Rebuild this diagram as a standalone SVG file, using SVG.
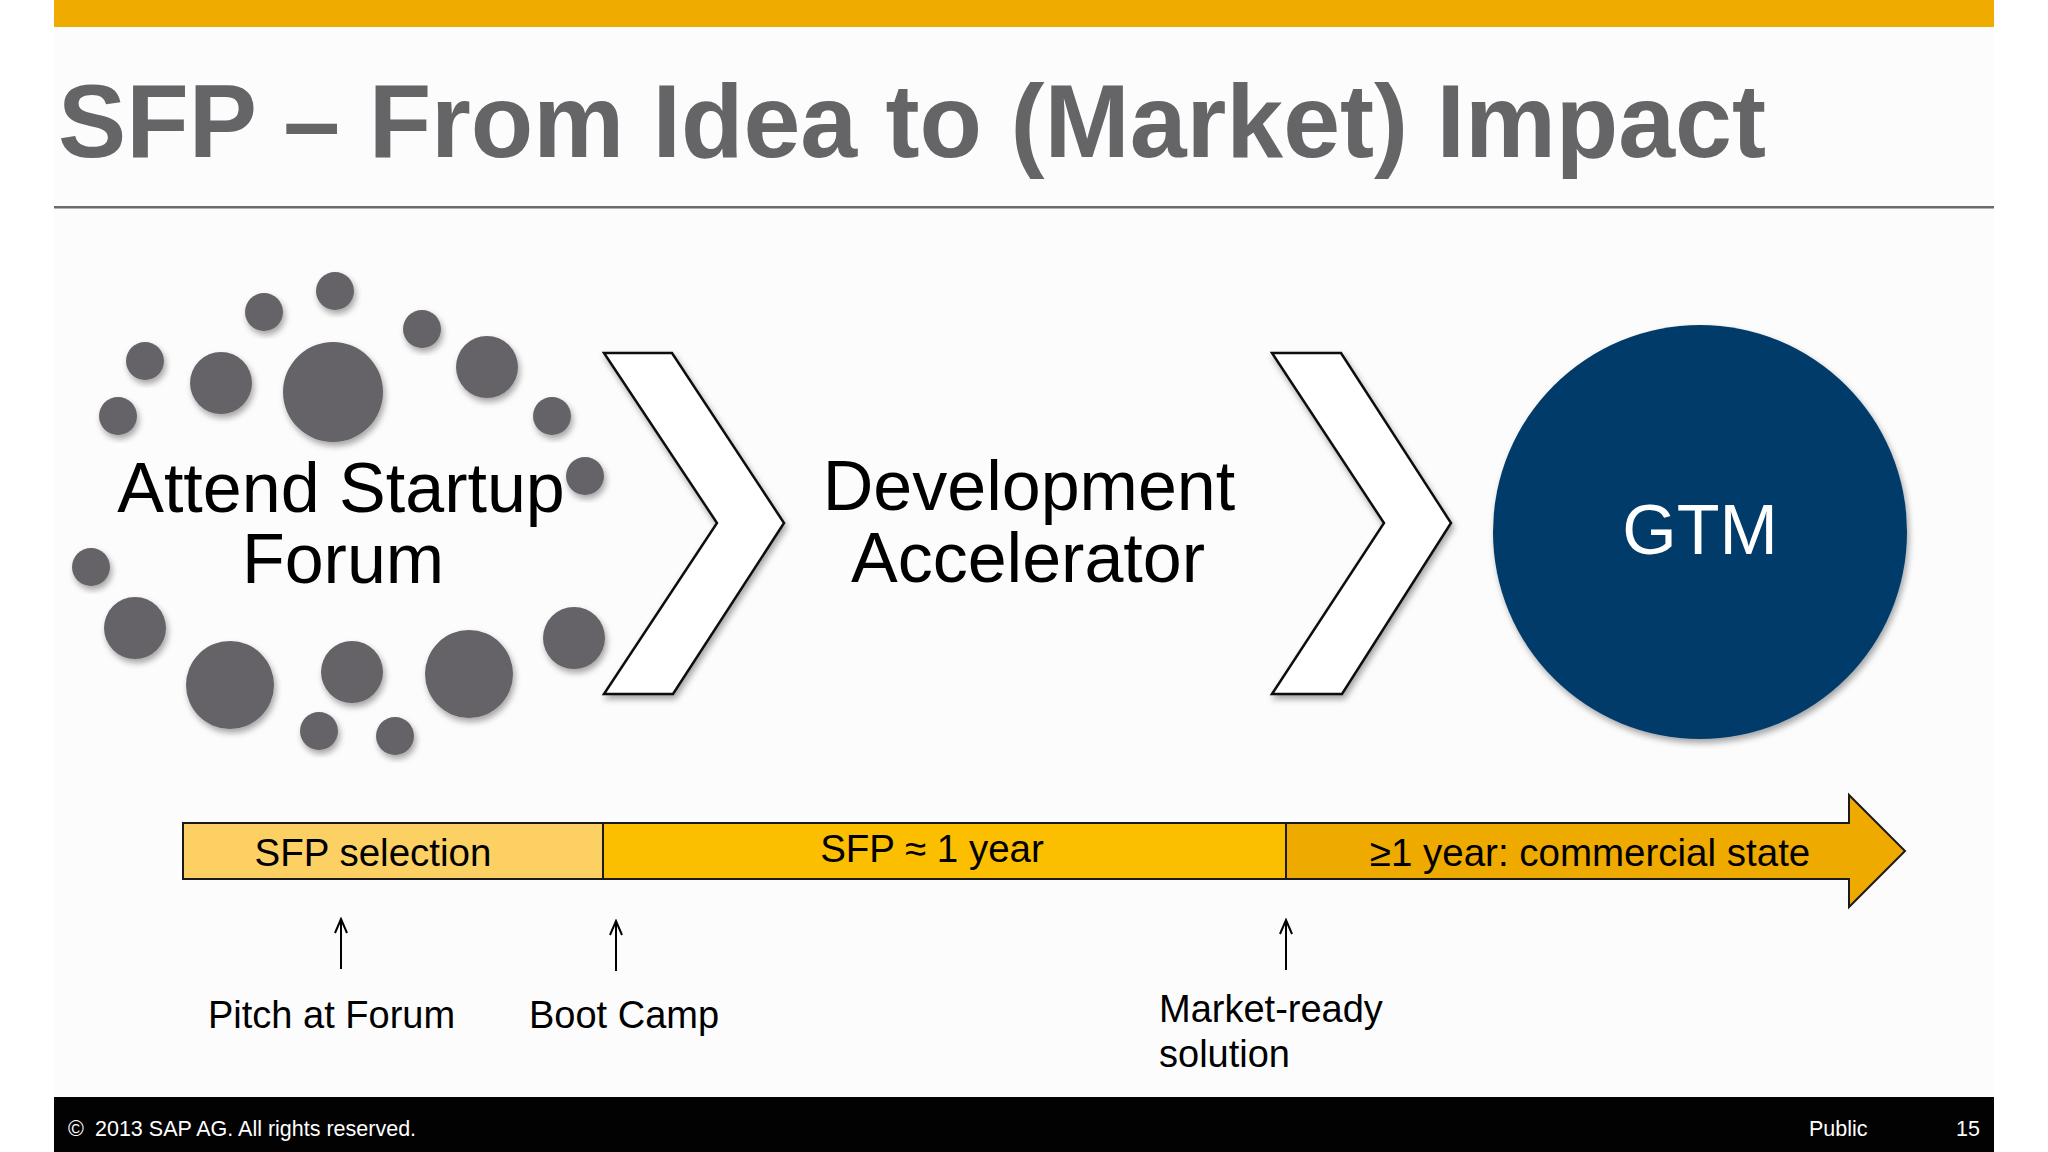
<svg xmlns="http://www.w3.org/2000/svg" width="2048" height="1152" viewBox="0 0 2048 1152">
  <style>
    .sans { font-family: "Liberation Sans", Arial, sans-serif; }
    .bubble { fill: #656367; filter: url(#shadow); }
    .chev { fill: #ffffff; stroke: #111111; stroke-width: 2.5; stroke-linejoin: miter; filter: url(#shadow); }
    .big { font-size: 70px; fill: #000000; text-anchor: middle; }
    .bar { stroke: #1a1a1a; stroke-width: 2; }
    .barlabel { font-size: 38.5px; fill: #000000; text-anchor: middle; }
    .mlabel { font-size: 38px; fill: #000000; }
    .foot { font-size: 21.5px; fill: #ffffff; }
    .up { stroke: #000000; stroke-width: 2; fill: none; marker-end: url(#openhead); }
  </style>
  <defs>
    <filter id="shadow" x="-20%" y="-20%" width="140%" height="140%">
      <feDropShadow dx="2" dy="4" stdDeviation="3" flood-color="#000000" flood-opacity="0.35"/>
    </filter>
    <marker id="openhead" viewBox="-16 -8 18 16" markerWidth="18" markerHeight="16" refX="0" refY="0" orient="auto" markerUnits="userSpaceOnUse">
      <path d="M-14,-6 L0,0 L-14,6" fill="none" stroke="#000000" stroke-width="2"/>
    </marker>
  </defs>

  <!-- background -->
  <rect x="0" y="0" width="2048" height="1152" fill="#ffffff"/>
  <rect x="54" y="0" width="1940" height="1152" fill="#fcfcfc"/>

  <!-- header -->
  <g id="header">
    <rect x="54" y="0" width="1940" height="27" fill="#efab00"/>
    <text class="sans" x="58" y="157" font-size="104" font-weight="bold" fill="#656467" textLength="1708" lengthAdjust="spacingAndGlyphs">SFP – From Idea to (Market) Impact</text>
    <rect x="54" y="206" width="1940" height="2.5" fill="#6b6b6b"/>
  </g>

  <!-- node: Attend Startup Forum -->
  <g id="node-forum">
    <circle class="bubble" cx="335" cy="291" r="19"/>
    <circle class="bubble" cx="264" cy="312" r="19"/>
    <circle class="bubble" cx="422" cy="329" r="19"/>
    <circle class="bubble" cx="333" cy="392" r="50"/>
    <circle class="bubble" cx="221" cy="383" r="31"/>
    <circle class="bubble" cx="145" cy="361" r="19"/>
    <circle class="bubble" cx="487" cy="367" r="31"/>
    <circle class="bubble" cx="118" cy="416" r="19"/>
    <circle class="bubble" cx="552" cy="416" r="19"/>
    <circle class="bubble" cx="585" cy="476" r="19"/>
    <circle class="bubble" cx="91" cy="567" r="19"/>
    <circle class="bubble" cx="135" cy="628" r="31"/>
    <circle class="bubble" cx="230" cy="685" r="44"/>
    <circle class="bubble" cx="352" cy="672" r="31"/>
    <circle class="bubble" cx="469" cy="674" r="44"/>
    <circle class="bubble" cx="574" cy="638" r="31"/>
    <circle class="bubble" cx="319" cy="731" r="19"/>
    <circle class="bubble" cx="395" cy="736" r="19"/>
    <text class="sans big" x="341" y="512">Attend Startup</text>
    <text class="sans big" x="343" y="583">Forum</text>
  </g>

  <!-- chevron 1 -->
  <g id="chevron-1">
    <polygon class="chev" points="604,353 672,353 784,523 673,694 604,694 717,523"/>
  </g>

  <!-- node: Development Accelerator -->
  <g id="node-dev">
    <text class="sans big" x="1029" y="510">Development</text>
    <text class="sans big" x="1028" y="582">Accelerator</text>
  </g>

  <!-- chevron 2 -->
  <g id="chevron-2">
    <polygon class="chev" points="1272,353 1341,353 1451,523 1342,694 1272,694 1384,523"/>
  </g>

  <!-- node: GTM -->
  <g id="node-gtm">
    <circle cx="1700" cy="532" r="207" fill="#043b6b" filter="url(#shadow)"/>
    <text class="sans" x="1700" y="554" font-size="70" fill="#ffffff" text-anchor="middle">GTM</text>
  </g>

  <!-- timeline -->
  <g id="timeline-selection">
    <rect class="bar" x="183" y="823" width="420" height="56" fill="#fdd063"/>
    <text class="sans barlabel" x="373" y="866">SFP selection</text>
  </g>
  <g id="timeline-sfp">
    <rect class="bar" x="603" y="823" width="683" height="56" fill="#fbbf00"/>
    <text class="sans barlabel" x="932" y="862">SFP ≈ 1 year</text>
  </g>
  <g id="timeline-commercial">
    <polygon class="bar" points="1286,823 1849,823 1849,795 1905,851 1849,907 1849,879 1286,879" fill="#efaa00"/>
    <text class="sans barlabel" x="1590" y="866">≥1 year: commercial state</text>
  </g>

  <!-- milestone labels -->
  <g id="label-pitch">
    <text class="sans mlabel" x="208" y="1028">Pitch at Forum</text>
  </g>
  <g id="label-bootcamp">
    <text class="sans mlabel" x="529" y="1028">Boot Camp</text>
  </g>
  <g id="label-market">
    <text class="sans mlabel" x="1159" y="1022">Market-ready</text>
    <text class="sans mlabel" x="1159" y="1067">solution</text>
  </g>

  <!-- connectors -->
  <g id="connectors">
    <line class="up" x1="341" y1="969" x2="341" y2="919"/>
    <line class="up" x1="616" y1="971" x2="616" y2="921"/>
    <line class="up" x1="1286" y1="970" x2="1286" y2="920"/>
  </g>

  <!-- footer -->
  <g id="footer">
    <rect x="54" y="1097" width="1940" height="55" fill="#030203"/>
    <text class="sans foot" x="68" y="1136">©</text>
    <text class="sans foot" x="95" y="1136">2013 SAP AG. All rights reserved.</text>
    <text class="sans foot" x="1809" y="1136">Public</text>
    <text class="sans foot" x="1956" y="1136">15</text>
  </g>
</svg>
